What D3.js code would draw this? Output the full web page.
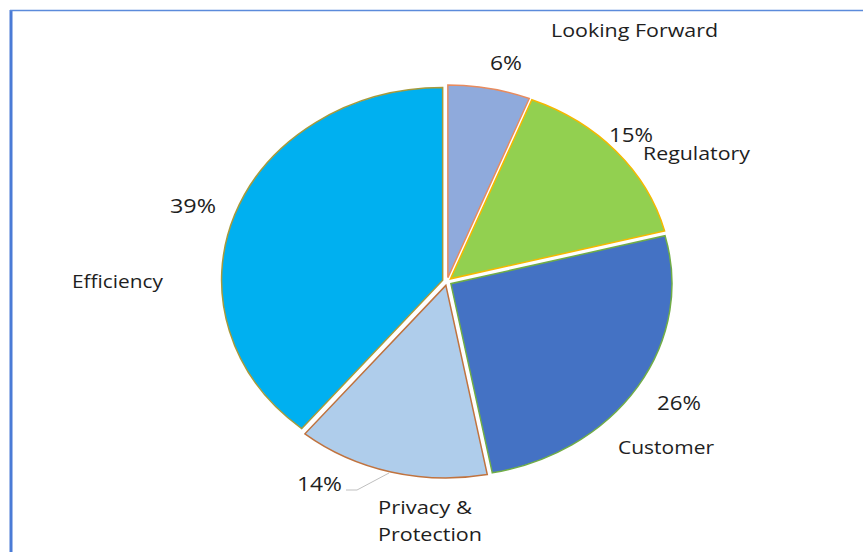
<!DOCTYPE html>
<html>
<head>
<meta charset="utf-8">
<script src="https://cdn.jsdelivr.net/npm/d3@7/dist/d3.min.js"></script>
<style>
  html, body { margin: 0; padding: 0; background: #fff; }
  svg { display: block; }
</style>
</head>
<body>
<svg id="chart" width="863" height="552"></svg>
<script>
// ---- data ----
const categories = ["Looking Forward", "Regulatory", "Customer", "Privacy & Protection", "Efficiency"];
const values = [6, 15, 26, 14, 39];
const percentLabels = ["6%", "15%", "26%", "14%", "39%"];
const fills = ["#8FAADC", "#92D050", "#4472C4", "#AFCDEB", "#00B0F0"];
const strokes = ["#E88B5E", "#F5B800", "#70AD47", "#C0733F", "#A69A3C"];

// ---- layout (styling, not data) ----
const cx = 447, cy = 281.5, r = 192.6, sx = 1.148, explode = 4;
// label boxes: [x, baseline, width]
const pctPos = [[490, 70, 32], [609, 142, 44], [657, 410, 44], [297, 491, 45], [170, 213, 46]];
const catPos = [
  [[551, 37, 167]],
  [[643, 160, 107]],
  [[618, 454, 96]],
  [[378, 514, 94], [378, 541, 104]],
  [[72, 288, 91]]
];
const catLines = [["Looking Forward"], ["Regulatory"], ["Customer"], ["Privacy &", "Protection"], ["Efficiency"]];

const svg = d3.select("#chart");

// frame
svg.append("line").attr("x1", 11).attr("x2", 11).attr("y1", 10).attr("y2", 552)
  .attr("stroke", "#4A7BD6").attr("stroke-width", 3);
svg.append("line").attr("x1", 10).attr("x2", 863).attr("y1", 10.5).attr("y2", 10.5)
  .attr("stroke", "#5B8BDB").attr("stroke-width", 1.5);

// pie
const pie = d3.pie().sort(null).value(d => d)(values);
const arc = d3.arc().innerRadius(0).outerRadius(r);
const g = svg.append("g").attr("transform", `translate(${cx},${cy}) scale(${sx},1)`);
g.selectAll("path").data(pie).join("path")
  .attr("transform", d => {
    const a = (d.startAngle + d.endAngle) / 2;
    return `translate(${explode * Math.sin(a)},${-explode * Math.cos(a)})`;
  })
  .attr("d", arc)
  .attr("fill", (d, i) => fills[i])
  .attr("stroke", (d, i) => strokes[i])
  .attr("stroke-width", 1.5)
  .attr("vector-effect", "non-scaling-stroke");

// leader line for 14%
svg.append("polyline")
  .attr("points", "346,490 357,490 389,473")
  .attr("fill", "none").attr("stroke", "#BFBFBF").attr("stroke-width", 1);

const font = "'Open Sans', 'Noto Sans', sans-serif";
// percent labels
svg.selectAll("text.pct").data(percentLabels).join("text")
  .attr("class", "pct")
  .attr("x", (d, i) => pctPos[i][0]).attr("y", (d, i) => pctPos[i][1])
  .attr("textLength", (d, i) => pctPos[i][2]).attr("lengthAdjust", "spacingAndGlyphs")
  .attr("font-family", font).attr("font-size", 19.5).attr("fill", "#1e1e1e")
  .text(d => d);

// category labels
catLines.forEach((lines, i) => {
  lines.forEach((t, j) => {
    const p = catPos[i][j];
    svg.append("text")
      .attr("x", p[0]).attr("y", p[1])
      .attr("textLength", p[2]).attr("lengthAdjust", "spacingAndGlyphs")
      .attr("font-family", font).attr("font-size", 17.5).attr("fill", "#1e1e1e")
      .text(t);
  });
});
</script>
</body>
</html>
